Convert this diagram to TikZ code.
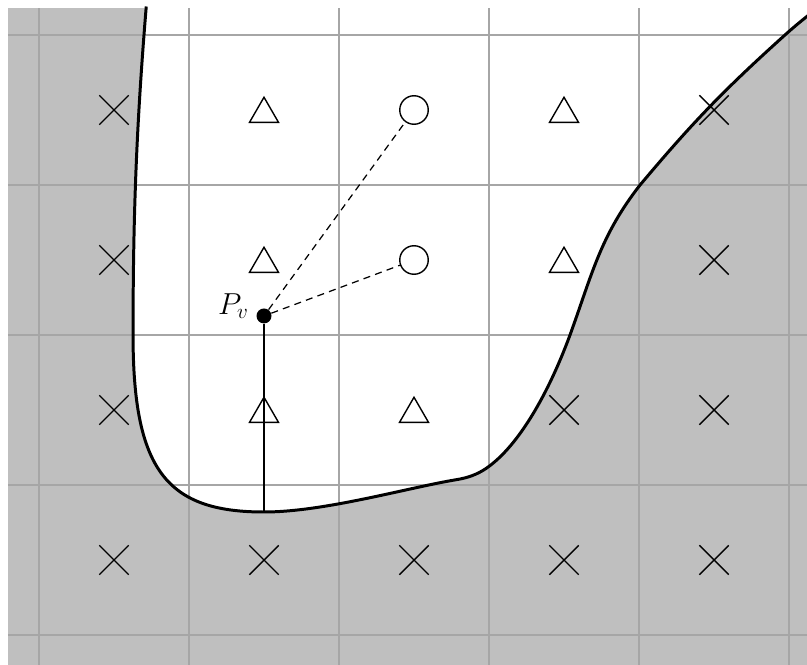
\documentclass[tikz,border=0pt]{standalone}
\usetikzlibrary{positioning, shapes.geometric, shapes.misc}

\newcommand{\fluidedge}{(0.715,4.19) .. controls (0.65,3.4) and (0.627,2.8) .. (0.627,2.0)
  .. controls (0.627,1.1) and (0.85,0.82) .. (1.5,0.82)
  .. controls (1.9,0.82) and (2.45,0.98) .. (2.78,1.035)
  .. controls (2.86,1.048) and (2.92,1.07) .. (2.98,1.11)
  .. controls (3.2,1.26) and (3.40,1.62) .. (3.54,2.0)
  to[out=70, in=232] (4.007,3.0)
  to[out=50, in=222] (4.973,4.0)
  to[out=42, in=220] (5.25,4.23)}

\begin{document}
\begin{tikzpicture}[
x=3cm, y=3cm,
gridline/.style={draw=black!35, line width=1.1pt},
cell/.style={draw, inner sep=0pt, line width=0.8pt},
outside/.style={cell, cross out, minimum size=0.56cm},
inside/.style={cell, regular polygon, regular polygon sides=3, minimum size=0.67cm, yshift=-0.08cm},
near/.style={cell, circle, minimum size=0.57cm},
probe/.style={circle, fill=black, inner sep=0pt, minimum size=0.3cm},
link/.style={dash pattern=on 4pt off 3pt, line width=0.7pt}
]

\useasboundingbox (-0.26,-0.1933) rectangle (5.12,4.2333);
\clip (-0.26,-0.1933) rectangle (5.12,4.2333);

% solid region and fluid region
\fill[black!25] (-0.2067,-0.3) rectangle (5.3,4.18);
\fill[white] \fluidedge -- (5.25,4.3) -- (0.715,4.3) -- cycle;
\draw[gridline, xstep=3cm, ystep=3cm] (-0.2067,-0.3) grid (5.3,4.18);
\draw[line width=1.7pt] \fluidedge;
\coordinate (foot) at (1.5,0.82);

% cell markers
\foreach \c/\r [count=\i] in {0/3, 4/3, 0/2, 4/2, 0/1, 3/1, 4/1, 0/0, 1/0, 2/0, 3/0, 4/0}
  \node (x\i) [outside] at (\c+0.5,\r+0.5) {};
\foreach \c/\r [count=\i] in {1/3, 3/3, 1/2, 3/2, 1/1, 2/1}
  \node (t\i) [inside] at (\c+0.5,\r+0.5) {};
\node (c1) [near] at (2.5,3.5) {};
\node (c2) [near] at (2.5,2.5) {};

% probe point
\node (pv) [probe] at (1.5,2.127) {};
\node (pvlabel) [left=0.14cm of pv, yshift=0.2cm, inner sep=0pt, font=\LARGE] {$P_v$};

\draw[line width=1.4pt] (pv) -- (foot);
\draw[link] (pv) -- (c1);
\draw[link] (pv) -- (c2);

\end{tikzpicture}
\end{document}
